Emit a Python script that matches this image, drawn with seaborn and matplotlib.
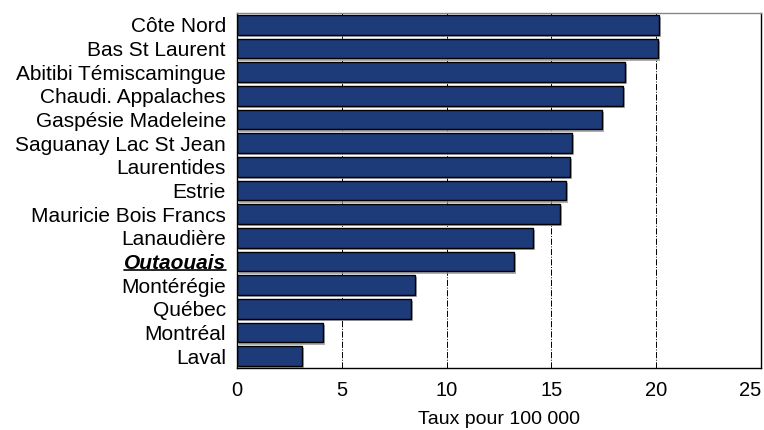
import matplotlib
matplotlib.use("Agg")
import matplotlib.pyplot as plt
import matplotlib.patheffects as pe
from matplotlib.lines import Line2D
import seaborn as sns
import pandas as pd

regions = ["Côte Nord", "Bas St Laurent", "Abitibi Témiscamingue", "Chaudi. Appalaches",
           "Gaspésie Madeleine", "Saguanay Lac St Jean", "Laurentides", "Estrie",
           "Mauricie Bois Francs", "Lanaudière", "Outaouais", "Montérégie",
           "Québec", "Montréal", "Laval"]
taux = [20.15, 20.1, 18.5, 18.4, 17.4, 16.0, 15.9, 15.7, 15.4, 14.1, 13.2, 8.5, 8.3, 4.1, 3.1]
xticks = [0, 5, 10, 15, 20, 25]
highlight = "Outaouais"

df = pd.DataFrame({"region": regions, "taux": taux})

sns.set_style("white")
plt.rcParams["font.family"] = ["Liberation Sans", "DejaVu Sans"]
plt.rcParams["text.color"] = "black"
plt.rcParams["xtick.color"] = "black"
plt.rcParams["ytick.color"] = "black"
plt.rcParams["axes.labelcolor"] = "black"

fig = plt.figure(figsize=(7.64, 4.30), dpi=100)
ax = fig.add_axes([237 / 764, 1 - 368 / 430, (761 - 237) / 764, (368 - 13) / 430])

sns.barplot(data=df, x="taux", y="region", orient="h", color="#1d3b78",
            edgecolor="black", linewidth=1.0, width=0.84, saturation=1, ax=ax)

for p in ax.patches:
    p.set_path_effects([pe.SimplePatchShadow(offset=(1.5, -1.5), shadow_rgbFace="#9a9a9a", alpha=0.8),
                        pe.Normal()])

ax.set_xlim(0, 25)
ax.set_xticks(xticks)
ax.set_xticklabels([str(t) for t in xticks], fontsize=14.5)
ax.get_xticklabels()[-1].set_horizontalalignment("right")
ax.get_xticklabels()[-1].set_x(25.05)
ax.tick_params(axis="x", length=0, pad=9)
ax.tick_params(axis="y", length=0, pad=8, labelsize=15)
ax.set_ylabel("")
ax.set_xlabel("Taux pour 100 000", fontsize=14, labelpad=8)

for v in xticks[1:-1]:
    ax.axvline(v, color="black", linestyle="-.", linewidth=0.7, zorder=0)

for side in ["left", "bottom", "right"]:
    ax.spines[side].set_color("black")
    ax.spines[side].set_linewidth(1.0)
ax.spines["top"].set_color("#888888")
ax.spines["top"].set_linewidth(1.0)

# highlighted region: bold italic + underline
fig.canvas.draw()
renderer = fig.canvas.get_renderer()
for lab in ax.get_yticklabels():
    if lab.get_text() == highlight:
        lab.set_fontweight("bold")
        lab.set_fontstyle("italic")
        fig.canvas.draw()
        bb = lab.get_window_extent(renderer=renderer)
        inv = fig.transFigure.inverted()
        (x0, y0), (x1, y1) = inv.transform([(bb.x0, bb.y0 + 3), (bb.x1, bb.y0 + 3)])
        fig.add_artist(Line2D([x0, x1], [y0, y1], color="black", linewidth=1.2))

fig.savefig("out.png", dpi=100)
